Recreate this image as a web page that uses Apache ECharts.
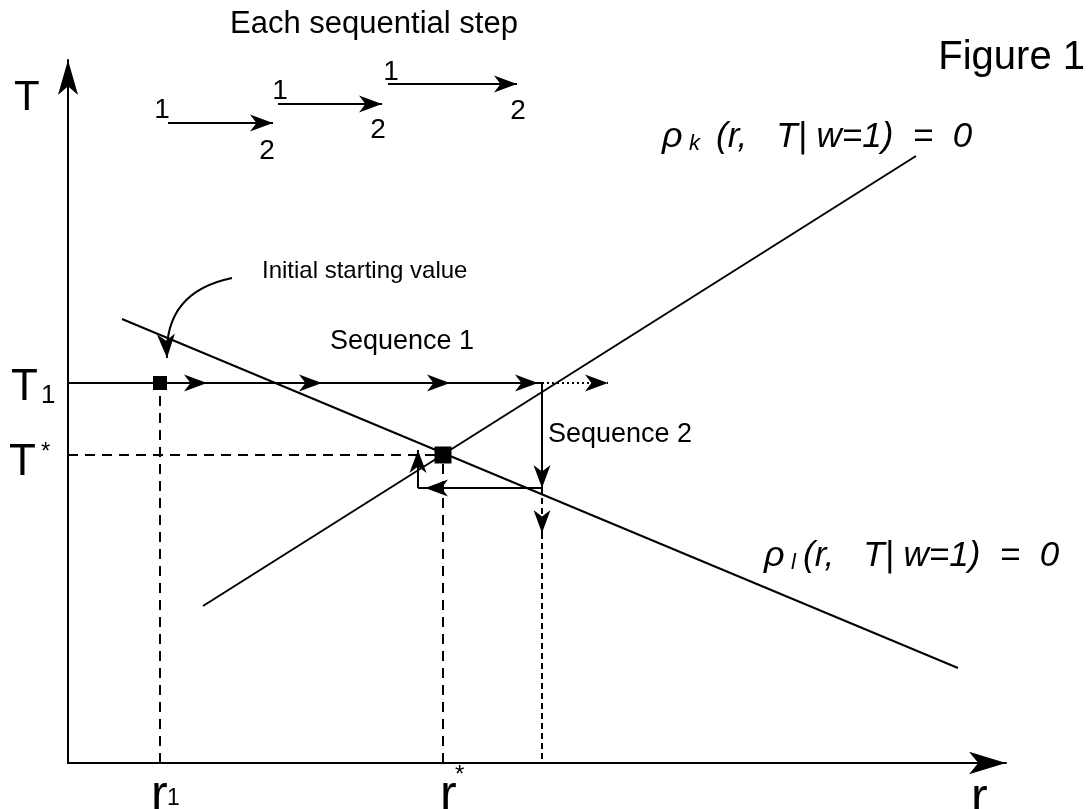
<!DOCTYPE html>
<html>
<head>
<meta charset="utf-8">
<script src="https://cdn.jsdelivr.net/npm/echarts@6/dist/echarts.min.js"></script>
<style>
html,body{margin:0;padding:0;background:#fff;}
#chart{width:1089px;height:809px;}
</style>
</head>
<body>
<div id="chart"></div>
<script>
// ---- data (diagram units: r to the right, T upward, origin at axes corner) ----
const rhoL = [[54, 444], [890, 95]];       // rho_l(r,T|w=1)=0
const rhoK = [[135, 157], [848, 607]];     // rho_k(r,T|w=1)=0
const T1 = 380, Tstar = 308, Tlow = 275;
const r1 = 92, rStar = 375, r2 = 474, rBack = 350;
const seq1Tips = [139, 254, 382, 470];     // arrowhead tips along T1
const seq1DottedEnd = 540;
const seq2LeftTip = 357, seq2UpTip = 313, seq2DownTip = 230;
const stepArrows = [[100, 640, 205, 640], [210, 659, 314, 659], [320, 679, 449, 679]];
const startCurve = [[164, 485], [96, 471], [99, 405]]; // start, control, end
const squares = [[r1, T1, 14], [rStar, Tstar, 17]];
const tickLabelsT = ['T', 'T1', 'T*'];
const tickLabelsR = ['r1', 'r*', 'r'];

// kind: 0 solid, 1 dashed, 2 fine dashed, 3 dotted ; arrow: 1 = arrowhead at end
const segments = [];
segments.push([rhoL[0][0], rhoL[0][1], rhoL[1][0], rhoL[1][1], 0, 0]);
segments.push([rhoK[0][0], rhoK[0][1], rhoK[1][0], rhoK[1][1], 0, 0]);
let prev = 0;
seq1Tips.forEach(t => { segments.push([prev, T1, t, T1, 0, 1]); prev = t; });
segments.push([prev, T1, r2, T1, 0, 0]);
segments.push([r2, T1, seq1DottedEnd, T1, 3, 1]);
segments.push([r2, T1, r2, Tlow, 0, 1]);
segments.push([r2, Tlow, seq2LeftTip, Tlow, 0, 1]);
segments.push([seq2LeftTip, Tlow, rBack, Tlow, 0, 0]);
segments.push([rBack, Tlow, rBack, seq2UpTip, 0, 1]);
segments.push([r2, Tlow, r2, seq2DownTip, 2, 1]);
segments.push([r2, seq2DownTip, r2, 0, 2, 0]);
segments.push([0, Tstar, rStar, Tstar, 1, 0]);
segments.push([r1, 0, r1, T1, 1, 0]);
segments.push([rStar, 0, rStar, Tstar, 1, 0]);
stepArrows.forEach(a => segments.push([a[0], a[1], a[2], a[3], 0, 1]));

function arrowHead(tip, from, L, W) {
  const dx = tip[0] - from[0], dy = tip[1] - from[1];
  const len = Math.sqrt(dx * dx + dy * dy) || 1;
  const ux = dx / len, uy = dy / len, nx = -uy, ny = ux;
  return {
    type: 'polygon',
    shape: { points: [
      [tip[0], tip[1]],
      [tip[0] - ux * L + nx * W, tip[1] - uy * L + ny * W],
      [tip[0] - ux * L * 0.72, tip[1] - uy * L * 0.72],
      [tip[0] - ux * L - nx * W, tip[1] - uy * L - ny * W]
    ] },
    style: { fill: '#000', stroke: null }
  };
}

function renderSeg(params, api) {
  const p1 = api.coord([api.value(0), api.value(1)]);
  const p2 = api.coord([api.value(2), api.value(3)]);
  const kind = api.value(4), arrow = api.value(5);
  const dash = kind === 1 ? [10, 7] : kind === 2 ? [6, 4] : kind === 3 ? [2, 3] : null;
  const children = [{
    type: 'line',
    shape: { x1: p1[0], y1: p1[1], x2: p2[0], y2: p2[1] },
    style: { stroke: '#000', lineWidth: 2, lineDash: dash, fill: null }
  }];
  if (arrow) children.push(arrowHead(p2, p1, 23, 8.5));
  return { type: 'group', children: children };
}

function renderCurve(params, api) {
  const s = api.coord([api.value(0), api.value(1)]);
  const c = api.coord([api.value(2), api.value(3)]);
  const e = api.coord([api.value(4), api.value(5)]);
  return { type: 'group', children: [
    { type: 'bezierCurve', shape: { x1: s[0], y1: s[1], cpx1: c[0], cpy1: c[1], x2: e[0], y2: e[1] },
      style: { stroke: '#000', lineWidth: 2, fill: null } },
    arrowHead(e, c, 24, 9)
  ] };
}

const FONT = 'Liberation Sans, Arial, Helvetica, sans-serif';
function txt(text, x, y, size, opts) {
  opts = opts || {};
  return {
    type: 'text', x: x, y: y, silent: true,
    style: {
      text: text, fill: '#000', fontSize: size, fontFamily: FONT,
      fontStyle: opts.italic ? 'italic' : 'normal',
      textAlign: opts.align || 'left', textVerticalAlign: 'middle'
    }
  };
}

const chart = echarts.init(document.getElementById('chart'), null, { renderer: 'canvas' });
const option = {
  backgroundColor: '#fff',
  animation: false,
  grid: { left: 68, right: 83, top: 60, bottom: 46, containLabel: false },
  xAxis: {
    type: 'value', min: 0, max: 938,
    axisLine: { show: true, lineStyle: { color: '#000', width: 2 }, symbol: ['none', 'arrow'], symbolSize: [17, 37] },
    axisTick: { show: false }, axisLabel: { show: false }, splitLine: { show: false }
  },
  yAxis: {
    type: 'value', min: 0, max: 703,
    axisLine: { show: true, onZero: false, lineStyle: { color: '#000', width: 2 }, symbol: ['none', 'arrow'], symbolSize: [15, 35] },
    axisTick: { show: false }, axisLabel: { show: false }, splitLine: { show: false }
  },
  series: [
    { type: 'custom', renderItem: renderSeg, data: segments, clip: false, silent: true },
    { type: 'custom', renderItem: renderCurve, data: [[startCurve[0][0], startCurve[0][1], startCurve[1][0], startCurve[1][1], startCurve[2][0], startCurve[2][1]]], clip: false, silent: true },
    { type: 'scatter', symbol: 'rect', data: squares.map(s => [s[0], s[1]]),
      symbolSize: (v, p) => squares[p.dataIndex][2], itemStyle: { color: '#000', opacity: 1 }, silent: true, z: 5 }
  ],
  graphic: [
    txt('Each sequential step', 374, 24, 31, { align: 'center' }),
    txt('Figure 1', 1085, 58, 40, { align: 'right' }),
    txt(tickLabelsT[0], 14, 98, 42),
    txt('T', 11, 388, 44), txt('1', 41, 396, 26),
    txt('T', 9, 463, 44), txt('*', 41, 452, 24),
    txt('r', 151, 796, 50), txt('1', 167, 799, 23),
    txt('r', 440, 796, 50), txt('*', 455, 775, 24),
    txt(tickLabelsR[2], 971, 799, 50),
    txt('Sequence 1', 330, 342, 27),
    txt('Sequence 2', 548, 435, 27),
    txt('Initial starting value', 262, 271, 24),
    txt('1', 162, 110, 28, { align: 'center' }), txt('2', 267, 151, 28, { align: 'center' }),
    txt('1', 280, 91, 28, { align: 'center' }), txt('2', 378, 130, 28, { align: 'center' }),
    txt('1', 391, 72, 28, { align: 'center' }), txt('2', 518, 111, 28, { align: 'center' }),
    txt('\u03C1', 662, 137, 36, { italic: true }), txt('k', 689, 144, 22, { italic: true }),
    txt('(r,   T| w=1)  =  0', 716, 137, 35, { italic: true }),
    txt('\u03C1', 764, 556, 36, { italic: true }), txt('l', 791, 563, 22, { italic: true }),
    txt('(r,   T| w=1)  =  0', 803, 556, 35, { italic: true })
  ]
};
chart.setOption(option);
</script>
</body>
</html>
